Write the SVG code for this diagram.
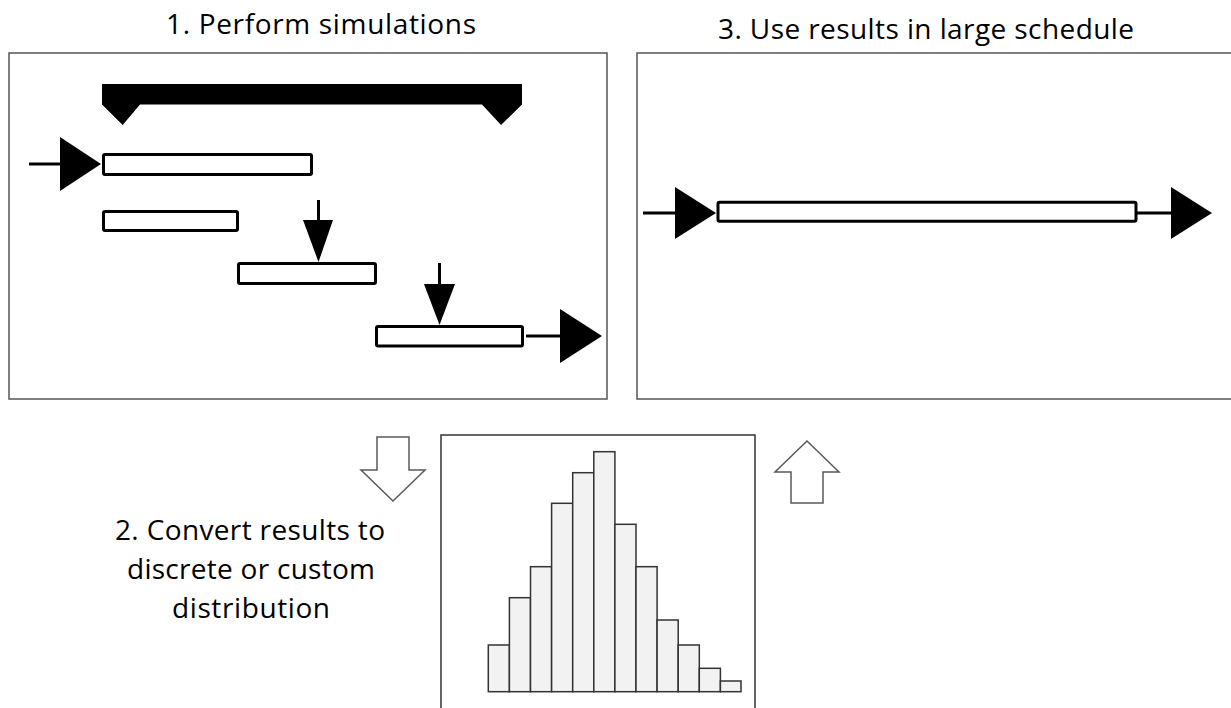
<svg xmlns="http://www.w3.org/2000/svg" width="1231" height="708" viewBox="0 0 1231 708">
<style>
.panel{fill:#fff;stroke:#555;stroke-width:1.5}
.bar{fill:#fff;stroke:#000;stroke-width:3}
.line{stroke:#000;stroke-width:3;fill:none}
.head{fill:#000;stroke:none}
.hollow{fill:#fff;stroke:#595959;stroke-width:1.5;stroke-linejoin:miter}
.hist{fill:#f2f2f2;stroke:#333;stroke-width:1.5}
.lbl{font-family:"Open Sans","Liberation Sans",Arial,sans-serif;font-size:28px;fill:#000;text-anchor:middle}
</style>
<rect width="1231" height="708" fill="#fff"/>
<g id="title1"><text class="lbl" x="321" y="34" textLength="310">1. Perform simulations</text></g>
<g id="title3"><text class="lbl" x="926" y="39" textLength="416">3. Use results in large schedule</text></g>
<g id="label2">
<text class="lbl" x="250" y="540" textLength="270">2. Convert results to</text>
<text class="lbl" x="251" y="579" textLength="248">discrete or custom</text>
<text class="lbl" x="251" y="618" textLength="158">distribution</text>
</g>
<g id="panel1">
<rect class="panel" x="9" y="53" width="598" height="346"/>
<polygon class="head" points="102,84 522,84 522,104.5 501,125 482,104.5 140,104.5 122.7,125 102,104.5"/>
<rect id="task1" class="bar" x="103.5" y="154.5" width="208" height="20" rx="1.5"/>
<rect id="task2" class="bar" x="103.5" y="211.5" width="134" height="19" rx="1.5"/>
<rect id="task3" class="bar" x="238.5" y="263.5" width="137" height="20" rx="1.5"/>
<rect id="task4" class="bar" x="376.5" y="326.5" width="146" height="19.5" rx="1.5"/>
</g>
<g id="panel3">
<rect class="panel" x="637" y="53" width="620" height="346"/>
<rect id="bigtask" class="bar" x="718" y="202.2" width="418" height="19" rx="1.5"/>
</g>
<g id="histogram">
<rect class="panel" x="441" y="435" width="314" height="290" style="stroke:#333"/>
<rect class="hist" x="488.3" y="645" width="21.1" height="46.7"/>
<rect class="hist" x="509.4" y="597.7" width="21.1" height="94"/>
<rect class="hist" x="530.5" y="566.7" width="21.1" height="125"/>
<rect class="hist" x="551.6" y="503.3" width="21.1" height="188.4"/>
<rect class="hist" x="572.7" y="472.7" width="21.1" height="219"/>
<rect class="hist" x="593.8" y="451.7" width="21.1" height="240"/>
<rect class="hist" x="614.9" y="524.3" width="21.1" height="167.4"/>
<rect class="hist" x="636" y="566.7" width="21.1" height="125"/>
<rect class="hist" x="657.1" y="620" width="21.1" height="71.7"/>
<rect class="hist" x="678.2" y="645" width="21.1" height="46.7"/>
<rect class="hist" x="699.3" y="668.3" width="21.1" height="23.4"/>
<rect class="hist" x="720.4" y="681" width="20.6" height="10.7"/>
</g>
<g id="connectors">
<line class="line" x1="29" y1="164" x2="62" y2="164"/>
<polygon class="head" points="60,137 60,191 101,164"/>
<line class="line" x1="318.5" y1="200" x2="318.5" y2="222"/>
<polygon class="head" points="303,220 333,220 318.5,262"/>
<line class="line" x1="439.5" y1="263" x2="439.5" y2="286"/>
<polygon class="head" points="424,284 455,284 439.5,325"/>
<line class="line" x1="526" y1="336" x2="562" y2="336"/>
<polygon class="head" points="560,309 560,363 602,336"/>
<line class="line" x1="643" y1="213" x2="677" y2="213"/>
<polygon class="head" points="675,187 675,239 716,213"/>
<line class="line" x1="1137" y1="213" x2="1173" y2="213"/>
<polygon class="head" points="1171,187 1171,239 1212,213"/>
<polygon class="hollow" points="377,437 409,437 409,470 425,470 393,501 361,470 377,470"/>
<polygon class="hollow" points="807,441 839,472 823,472 823,503 791,503 791,472 775,472"/>
</g>
</svg>
